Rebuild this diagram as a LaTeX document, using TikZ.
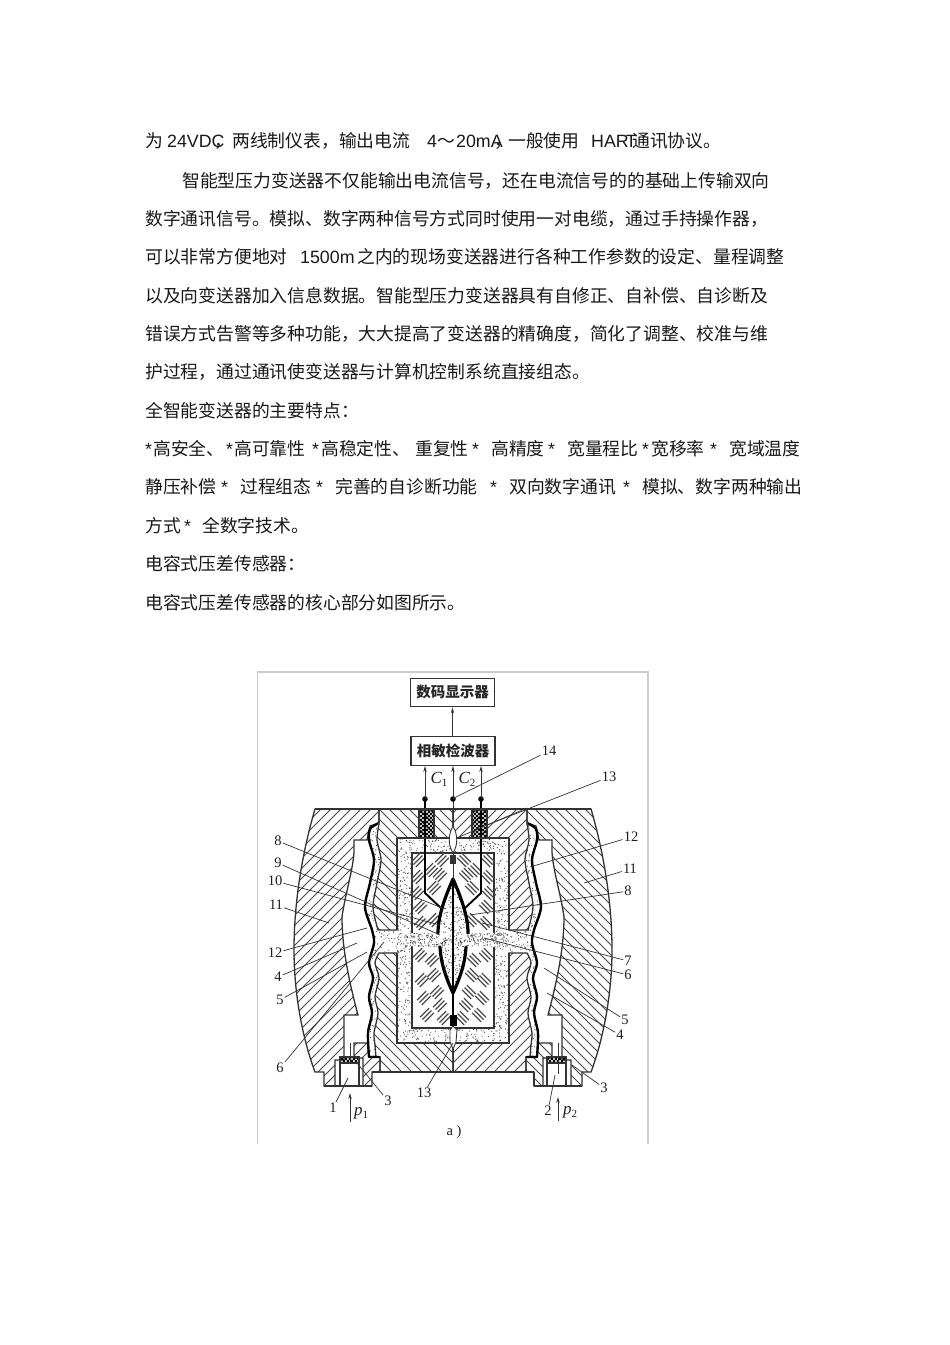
\documentclass[tikz,border=0pt]{standalone}
\usepackage{fontspec}
\usetikzlibrary{arrows.meta}
\setmainfont{Liberation Sans}
\newfontfamily\cjk{Noto Sans CJK SC}
\newfontfamily\figserif{Liberation Serif}
\newcounter{txtc}
\definecolor{ink}{gray}{0.1}
\definecolor{figline}{gray}{0.2}
\tikzset{
  txt/.style={anchor=base west,inner sep=0pt,text=ink,font=\fontsize{17.8}{20}\selectfont},
  num/.style={inner sep=1pt,text=black!88,font=\figserif\fontsize{14.5}{16}\selectfont},
  sym/.style={inner sep=1pt,text=black!88,font=\figserif\fontsize{17}{19}\selectfont},
  leader/.style={draw=figline,line width=0.7pt},
  outline/.style={draw=figline,line width=1.3pt},
  hatchline/.style={draw=black!72,line width=0.9pt},
  heavy/.style={draw=black,line width=3.2pt,line cap=round,line join=round},
  memb/.style={draw=black,line width=2.4pt,line cap=round,line join=round},
  wire/.style={draw=black,line width=1.9pt,line join=round},
  arr/.style={draw=figline,line width=0.9pt,-{Stealth[length=6pt,width=3.4pt]}},
  boxnode/.style={draw=figline,line width=1.4pt,minimum width=84pt,minimum height=28.5pt,inner sep=0pt,text=black!85,font=\cjk\bfseries\fontsize{14.5}{16}\selectfont},
}
\newcommand\bodycjk[3]{\stepcounter{txtc}\node[txt] (t\arabic{txtc}) at (#1,#2) {\cjk #3};}
\newcommand\bodylat[3]{\stepcounter{txtc}\node[txt] (t\arabic{txtc}) at (#1,#2) {#3};}
\newcommand\hatchne[2]{\begin{scope}\clip #2;\foreach \k in {240,250,...,920}{\draw[hatchline] ({\k+#1},800) -- ({\k+#1-300},1100);}\end{scope}}
\newcommand\hatchnw[2]{\begin{scope}\clip #2;\foreach \k in {-20,-10,...,620}{\draw[hatchline] ({\k+#1},800) -- ({\k+#1+300},1100);}\end{scope}}
\newcommand\xhatch[4]{\begin{scope}\clip (#1,#3) rectangle (#2,#4);
  \foreach \k in {0,4,...,60}{\draw[draw=black,line width=0.8pt] ({#1+\k},#3) -- ({#1+\k-40},{#3+40});\draw[draw=black,line width=0.8pt] ({#1+\k-40},#3) -- ({#1+\k},{#3+40});}\end{scope}
  \draw[outline] (#1,#3) rectangle (#2,#4);}
\newcommand\stip[5]{\foreach \i in {1,...,#5}{\pgfmathsetmacro\sa{#1+rnd*(#2-#1)}\pgfmathsetmacro\sb{#3+rnd*(#4-#3)}\fill[black!70] (\sa,\sb) circle (0.6);}}
\newcommand\hm[2]{\foreach \q in {-2.4,0,2.4}{\draw[draw=black!70,line width=1.2pt] ({#1+\q+4.5},{#2+\q-4.5}) -- ({#1+\q-4.5},{#2+\q+4.5});}}
\def\shellpath{(315,809) .. controls (303,850) and (294,900) .. (294,950) .. controls (294,995) and (303,1040) .. (315,1072) -- (324,1072) -- (324,1086) -- (335,1086) -- (335,1060) -- (344,1060) -- (344,1015) -- (358,1015) .. controls (350,985) and (342,950) .. (342,917) .. controls (345,895) and (353,870) .. (354,852) -- (354,840) -- (367,840) -- (370,826) -- (379,823) -- (379,809) -- cycle}
\def\portblock{(354,1043) -- (368,1043) -- (369,1057) -- (380,1057) -- (380,1072) -- (372,1072) -- (372,1086) -- (363,1086) -- (363,1058) -- (354,1058) -- cycle}
\def\upblock{(379,809) -- (453,809) -- (453,838) -- (397,838) -- (397,930) -- (378,930) -- plot[smooth,tension=0.5] coordinates {(378,930)(373,907)(377,883)(381,860)(377,840)(379,824)} -- cycle}
\def\lowblock{(397,953) -- (379,953) -- plot[smooth,tension=0.5] coordinates {(379,953)(375,963)(379,978)(375,997)(378,1013)(374,1033)(375,1045)(376,1057)} -- (380,1057) -- (380,1072) -- (453,1072) -- (453,1043) -- (397,1043) -- cycle}
\def\oilpath{plot[smooth,tension=0.5] coordinates {(377,824)(370,829)(369,840)(374,860)(370,883)(365,907)(372,930)(374,943)(369,963)(373,978)(369,997)(372,1013)(368,1033)(369,1057)} -- (376,1057) -- plot[smooth,tension=0.5] coordinates {(376,1057)(375,1045)(374,1033)(378,1013)(375,997)(379,978)(375,963)(379,953)} -- (397,953) -- (397,930) -- (378,930) -- plot[smooth,tension=0.5] coordinates {(378,930)(373,907)(377,883)(381,860)(377,840)(379,824)} -- cycle}
\def\lenspath{(453,879) .. controls (446,895) and (438,915) .. (438,933) -- (440,947) .. controls (441,965) and (447,980) .. (453,993) -- cycle}
\newcommand\halfbody{%
  \hatchne{0}{\shellpath}\draw[outline] \shellpath;
  \hatchne{0}{\portblock}\draw[outline] \portblock;
  \hatchnw{0}{\upblock}\draw[outline] \upblock;
  \hatchnw{0}{\lowblock}\draw[outline] \lowblock;
  \begin{scope}\clip \oilpath;\stip{364}{398}{824}{1058}{560}\end{scope}
  \begin{scope}\clip (397,838) rectangle (453,1043);\stip{397}{453}{838}{1043}{1000}\end{scope}
  \draw[outline] (397,838) -- (453,838) (397,838) -- (397,930) (397,953) -- (397,1043) -- (453,1043);
  \fill[white] (412,853) rectangle (453,933);
  \fill[white] (412,947) rectangle (453,1028);
  \draw[outline,line width=1.6pt] (453,853) -- (412,853) -- (412,933);
  \draw[outline,line width=1.6pt] (412,947) -- (412,1028) -- (453,1028);
  \foreach \px/\py in {418/860,431/870,442/860,440/875,418/877,417/893,434/888,420/907,421/923,434/920,
                       420/955,432/960,422/980,434/975,437/992,424/998,440/1005,427/1015,444/1018}{\hm{\px}{\py}}
  \begin{scope}\clip (397,933) rectangle (442,947);\stip{397}{442}{933}{947}{90}\end{scope}
  \fill[white] \lenspath;
  \begin{scope}\clip \lenspath;\stip{437}{453}{879}{993}{200}\end{scope}
  \draw[heavy] (453,879) .. controls (446,895) and (438,915) .. (438,933);
  \draw[heavy] (440,947) .. controls (441,965) and (447,980) .. (453,993);
  \draw[wire] (425,799) -- (425,893) -- (442,909);
  \fill[black] (425,799) circle (2.8);
  \xhatch{419}{434}{810}{838}
  \draw[memb] plot[smooth,tension=0.5] coordinates {(377,824)(370,829)(369,840)(374,860)(370,883)(365,907)(372,930)(374,943)(369,963)(373,978)(369,997)(372,1013)(368,1033)(369,1057)} -- (379,1057);
  \fill[white] (340,1063) rectangle (359,1086);
  \draw[outline,line width=1.5pt] (340,1063) -- (340,1086) -- (359,1086) -- (359,1063);
  \xhatch{340}{359}{1057}{1063}
  \draw[outline,line width=1.5pt] (324,1086) -- (372,1086);
  \draw[outline,line width=1.5pt] (372,1072) -- (453,1072);
}
\begin{document}
\begin{tikzpicture}[x=1pt,y=-1pt]
\useasboundingbox (0,0) rectangle (950,1345);
\fill[white] (0,0) rectangle (950,1345);
% ---------- text ----------
\bodycjk{145}{147}{为}
\bodylat{167}{147}{24VDC}
\bodycjk{214}{147}{，}
\bodycjk{232}{147}{两线制仪表，输出电流}
\bodylat{427}{147}{4}
\bodycjk{437}{147}{～}
\bodylat{456}{147}{20mA}
\bodycjk{494}{147}{，}
\bodycjk{508}{147}{一般使用}
\bodylat{591}{147}{HAR\kern-3ptT}
\bodycjk{632}{147}{通讯协议。}
\bodycjk{182}{187}{智能型压力变送器不仅能输出电流信号，还在电流信号的的基础上传输双向}
\bodycjk{145}{225}{数字通讯信号。模拟、数字两种信号方式同时使用一对电缆，通过手持操作器，}
\bodycjk{145}{263}{可以非常方便地对}
\bodylat{300}{263}{1500m}
\bodycjk{357}{263}{之内的现场变送器进行各种工作参数的设定、量程调整}
\bodycjk{145}{302}{以及向变送器加入信息数据。智能型压力变送器具有自修正、自补偿、自诊断及}
\bodycjk{145}{340}{错误方式告警等多种功能，大大提高了变送器的精确度，简化了调整、校准与维}
\bodycjk{145}{378}{护过程，通过通讯使变送器与计算机控制系统直接组态。}
\bodycjk{145}{417}{全智能变送器的主要特点：}
\bodylat{145}{455}{*}
\bodycjk{153}{455}{高安全、}
\bodylat{226}{455}{*}
\bodycjk{234}{455}{高可靠性}
\bodylat{312}{455}{*}
\bodycjk{321}{455}{高稳定性、}
\bodycjk{415}{455}{重复性}
\bodylat{472}{455}{*}
\bodycjk{491}{455}{高精度}
\bodylat{548}{455}{*}
\bodycjk{567}{455}{宽量程比}
\bodylat{642}{455}{*}
\bodycjk{651}{455}{宽移率}
\bodylat{710}{455}{*}
\bodycjk{729}{455}{宽域温度}
\bodycjk{145}{493}{静压补偿}
\bodylat{221}{493}{*}
\bodycjk{240}{493}{过程组态}
\bodylat{316}{493}{*}
\bodycjk{335}{493}{完善的自诊断功能}
\bodylat{490}{493}{*}
\bodycjk{509}{493}{双向数字通讯}
\bodylat{623}{493}{*}
\bodycjk{642}{493}{模拟、数字两种输出}
\bodycjk{145}{532}{方式}
\bodylat{184}{532}{*}
\bodycjk{202}{532}{全数字技术。}
\bodycjk{145}{570}{电容式压差传感器：}
\bodycjk{145}{609}{电容式压差传感器的核心部分如图所示。}
% ---------- figure frame ----------
\draw[draw=black!20,line width=1.2pt] (257.5,1144) -- (257.5,672) -- (648,672) -- (648,1144);
% ---------- sensor ----------
\pgfmathsetseed{7}
\halfbody
\begin{scope}[shift={(906,0)},xscale=-1]
\halfbody
\end{scope}
\draw[draw=figline,line width=1pt] (453,799) -- (453,855);
\fill[white] (453,826) .. controls (458,835) and (458,845) .. (453,853) .. controls (448,845) and (448,835) .. (453,826) -- cycle;
\draw[draw=figline,line width=0.9pt] (453,826) .. controls (458,835) and (458,845) .. (453,853) .. controls (448,845) and (448,835) .. (453,826) -- cycle;
\fill[black!80] (450,855) rectangle (456,864);
\draw[draw=figline,line width=1pt] (453,864) -- (453,880);
\draw[draw=black,line width=2.8pt] (453,880) -- (453,1016);
\fill[black] (450,1015) rectangle (457,1026);
\fill[white] (453,1026) -- (457,1030) -- (456,1042) -- (453,1049) -- (450,1042) -- (450,1030) -- cycle;
\draw[draw=figline,line width=0.9pt] (453,1026) -- (457,1030) -- (456,1042) -- (453,1049) -- (450,1042) -- (450,1030) -- cycle;
\draw[draw=figline,line width=1pt] (453,1049) -- (453,1072);
\fill[black] (453,799) circle (2.8);
\draw[outline,line width=1.5pt] (315,809) -- (591,809);
\draw[outline,line width=1.3pt] (534,1072) -- (534,1086);
% ---------- boxes and signal lines ----------
\node[boxnode] (disp) at (452.5,692.5) {数码显示器};
\node[boxnode] (det) at (453,751) {相敏检波器};
\coordinate (c1) at (425,799);
\coordinate (c0) at (453,799);
\coordinate (c2) at (481,799);
\draw[arr] (det.north -| disp.south) -- (disp.south);
\draw[arr] (c1) -- (c1 |- det.south);
\draw[arr] (c0) -- (c0 |- det.south);
\draw[arr] (c2) -- (c2 |- det.south);
\newcommand\symsub[2]{{\itshape #1}\raisebox{-3pt}{\fontsize{11}{12}\selectfont #2}}
\node[sym] (cc1) at (439,779) {\symsub{C}{1}};
\node[sym] (cc2) at (467,779) {\symsub{C}{2}};
% ---------- pressure inlets ----------
\coordinate (p1a) at (350,1122);
\coordinate (p1b) at (350,1093);
\coordinate (p1c) at (350,1043);
\coordinate (p1d) at (350,1062);
\draw[arr] (p1a) -- (p1b);
\draw[draw=figline,line width=0.9pt] (p1c) -- (p1d);
\coordinate (p2a) at (558,1121);
\coordinate (p2b) at (558,1097);
\coordinate (p2c) at (558,1043);
\coordinate (p2d) at (558,1074);
\draw[arr] (p2a) -- (p2b);
\draw[draw=figline,line width=0.9pt] (p2c) -- (p2d);
\node[sym] (lp1) at (361,1113) {\symsub{p}{1}};
\node[sym] (lp2) at (570,1112) {\symsub{p}{2}};
\node[num,font=\fontsize{11}{12}\selectfont] (d1) at (444,943) {$\delta$};
\node[num,font=\fontsize{11}{12}\selectfont] (d2) at (460,943) {$\delta$};
\node[num] (cap) at (454,1132) {a )};
% ---------- part numbers with leaders ----------
\newcommand\lab[5]{\node[num] (#1) at (#2,#3) {#4};\coordinate (#1e) at (#5);\draw[leader] (#1) -- (#1e);}
\lab{n14}{549}{751}{14}{454,798}
\lab{n13a}{609}{777}{13}{487,825}
\coordinate (n13x) at (527,808);
\coordinate (n13y) at (459,837);
\draw[leader] (n13x) -- (n13y);
\lab{n12r}{631}{837}{12}{530,867}
\lab{n11r}{630}{869}{11}{584,883}
\lab{n8r}{628}{891}{8}{470,915}
\lab{n8l}{278}{841}{8}{442,908}
\lab{n9}{278}{863}{9}{440,935}
\lab{n10}{275}{881}{10}{440,925}
\lab{n11l}{276}{905}{11}{329,923}
\lab{n12l}{275}{953}{12}{367,928}
\lab{n4l}{278}{977}{4}{357,943}
\lab{n5l}{280}{1000}{5}{367,952}
\lab{n6l}{280}{1068}{6}{384,942}
\lab{n1}{333}{1108}{1}{348,1078}
\lab{n3l}{388}{1101}{3}{357,1063}
\lab{n13b}{424}{1093}{13}{453,1043}
\lab{n2}{548}{1111}{2}{555,1075}
\lab{n3r}{604}{1088}{3}{572,1065}
\lab{n4r}{620}{1035}{4}{547,993}
\lab{n5r}{625}{1020}{5}{544,968}
\lab{n6r}{628}{975}{6}{484,938}
\lab{n7}{628}{961}{7}{482,923}
\end{tikzpicture}
\end{document}
